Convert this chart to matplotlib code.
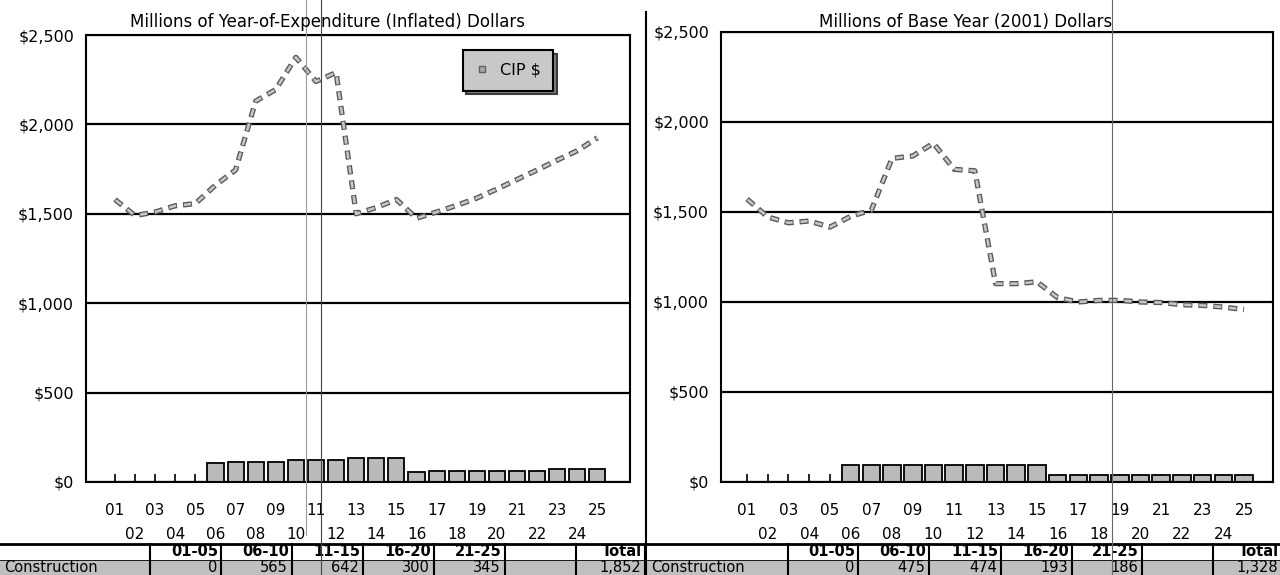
import matplotlib
matplotlib.use('Agg')
import matplotlib.pyplot as plt
from matplotlib.lines import Line2D
from matplotlib.patches import Rectangle

# fiscal years 2001-2025
years = ['01', '02', '03', '04', '05', '06', '07', '08', '09', '10', '11', '12', '13',
         '14', '15', '16', '17', '18', '19', '20', '21', '22', '23', '24', '25']

# CIP $ in millions, year-of-expenditure and base year (2001) dollars
cip_inflated = [1580, 1490, 1510, 1545, 1557, 1660, 1745, 2130, 2195, 2375, 2240, 2290, 1500,
                1535, 1580, 1475, 1510, 1547, 1588, 1638, 1692, 1745, 1800, 1853, 1925]
cip_base = [1572, 1472, 1440, 1450, 1416, 1476, 1510, 1798, 1811, 1882, 1737, 1729, 1102,
            1102, 1112, 1024, 1000, 1009, 1009, 1000, 997, 985, 981, 972, 958]

# construction spending per year, millions
constr_inflated = [0, 0, 0, 0, 0, 105, 112, 112, 113, 123, 123, 123, 132, 132, 132,
                   54, 61, 62, 61, 62, 62, 62, 73, 74, 74]
constr_base = [0, 0, 0, 0, 0, 95, 95, 95, 95, 95, 95, 95, 95, 95, 94,
               39, 38, 39, 38, 39, 37, 37, 38, 37, 37]

periods = ['01-05', '06-10', '11-15', '16-20', '21-25']
yticks = [0, 500, 1000, 1500, 2000, 2500]

plt.rcParams['font.family'] = 'DejaVu Sans'
plt.rcParams['lines.scale_dashes'] = False

W, H = 1280, 575
fig = plt.figure(figsize=(W / 100, H / 100), dpi=100)
fig.patch.set_facecolor('white')


def px_axes(x0, y0, x1, y1):
    return fig.add_axes([x0 / W, 1 - y1 / H, (x1 - x0) / W, (y1 - y0) / H])


def fig_line(x0, y0, x1, y1, **kw):
    fig.add_artist(Line2D([x0 / W, x1 / W], [1 - y0 / H, 1 - y1 / H],
                          transform=fig.transFigure, **kw))


def draw_panel(ax, line, bars, xlim, bar_w):
    x = list(range(len(years)))
    ax.set_axisbelow(True)
    ax.bar(x, bars, width=bar_w, color='#bababa', edgecolor='black', linewidth=1.3, zorder=2)
    # dashes drawn twice: dark outline, light fill
    ax.plot(x, line, color='#5a5a5a', lw=3.8, ls=(0, (6.5, 4.3)), zorder=3)
    ax.plot(x, line, color='#c8c8c8', lw=1.8, ls=(10.1, (5.1, 5.7)), zorder=4)
    ax.set_xlim(*xlim)
    ax.set_ylim(0, 2500)
    ax.set_yticks(yticks, [f'${v:,}' for v in yticks])
    ax.set_xticks(x[0::2], years[0::2])
    ax.set_xticks(x[1::2], years[1::2], minor=True)
    ax.tick_params(axis='x', which='both', direction='in', length=5.8, width=1.2,
                   labelsize=11, colors='black')
    ax.tick_params(axis='x', which='major', pad=15)
    ax.tick_params(axis='x', which='minor', pad=32.4)
    ax.tick_params(axis='y', length=0, pad=8.6, labelsize=11.5)
    ax.yaxis.grid(True, color='black', lw=1.6)
    for s in ax.spines.values():
        s.set_linewidth(1.5)
        s.set_color('black')


ax1 = px_axes(86, 35, 630, 482)
draw_panel(ax1, cip_inflated, constr_inflated, (-1.44, 25.62), 0.8)
fig.text(328 / W, 1 - 22 / H, 'Millions of Year-of-Expenditure (Inflated) Dollars',
         ha='center', va='center', fontsize=12)

handle = Line2D([], [], ls='none', marker='s', ms=4, mfc='#a8a8a8', mec='#606060')
leg = ax1.legend([handle], ['CIP $'], loc='upper left', bbox_to_anchor=(0.693, 0.966),
                 borderaxespad=0, fontsize=11.5, fancybox=False, edgecolor='black',
                 facecolor='#c8c8c8', framealpha=1, handlelength=0.8, handletextpad=0.7,
                 borderpad=0.8,
                 shadow={'ox': 2.5, 'oy': -2.5, 'facecolor': '#808080', 'alpha': 1})
leg.get_frame().set_linewidth(1.5)

ax2 = px_axes(721, 32, 1273, 482)
draw_panel(ax2, cip_base, constr_base, (-1.26, 25.4), 0.85)
fig.text(966 / W, 1 - 22 / H, 'Millions of Base Year (2001) Dollars',
         ha='center', va='center', fontsize=12)

# summary tables under each chart
tab = fig.add_axes([0, 0, 1, 32 / H])
tab.set_xlim(0, W)
tab.set_ylim(0, 32)
tab.axis('off')


def draw_table(edges, bars):
    sums = [sum(bars[i * 5:(i + 1) * 5]) for i in range(len(periods))]
    heads = periods + ['', 'Total']
    vals = [f'{v:,}' for v in sums] + ['', f'{sum(bars):,}']
    tab.add_patch(Rectangle((edges[0], 0), edges[-1] - edges[0], 15.5,
                            facecolor='#bfbfbf', edgecolor='none'))
    tab.plot([edges[0], edges[-1]], [31, 31], color='black', lw=2)
    tab.plot([edges[0], edges[-1]], [15.5, 15.5], color='black', lw=0.6)
    for e in edges[1:]:
        tab.plot([e, e], [0, 31], color='black', lw=1.5)
    tab.text(edges[0] + 4, 7.5, 'Construction', ha='left', va='center', fontsize=10.5)
    for i, (h, v) in enumerate(zip(heads, vals)):
        right = edges[i + 2]
        tab.text(right - 3, 23, h, ha='right', va='center', fontsize=10.5,
                 fontweight='bold')
        tab.text(right - 4, 7.5, v, ha='right', va='center', fontsize=10.5)


draw_table([0, 150, 221, 292, 363, 434, 505, 576, 645], constr_inflated)
draw_table([647, 788, 858, 929, 1001, 1072, 1142, 1213, 1282], constr_base)

# panel divider and scan streaks
fig_line(645.5, 12, 645.5, 575, color='black', lw=1.5)
fig_line(306, 0, 306, 535, color='#9a9a9a', lw=0.8)
fig_line(321, 0, 321, 575, color='#444444', lw=0.8)
fig_line(1112, 0, 1112, 575, color='#666666', lw=0.8)

fig.savefig('out.png', dpi=100)
